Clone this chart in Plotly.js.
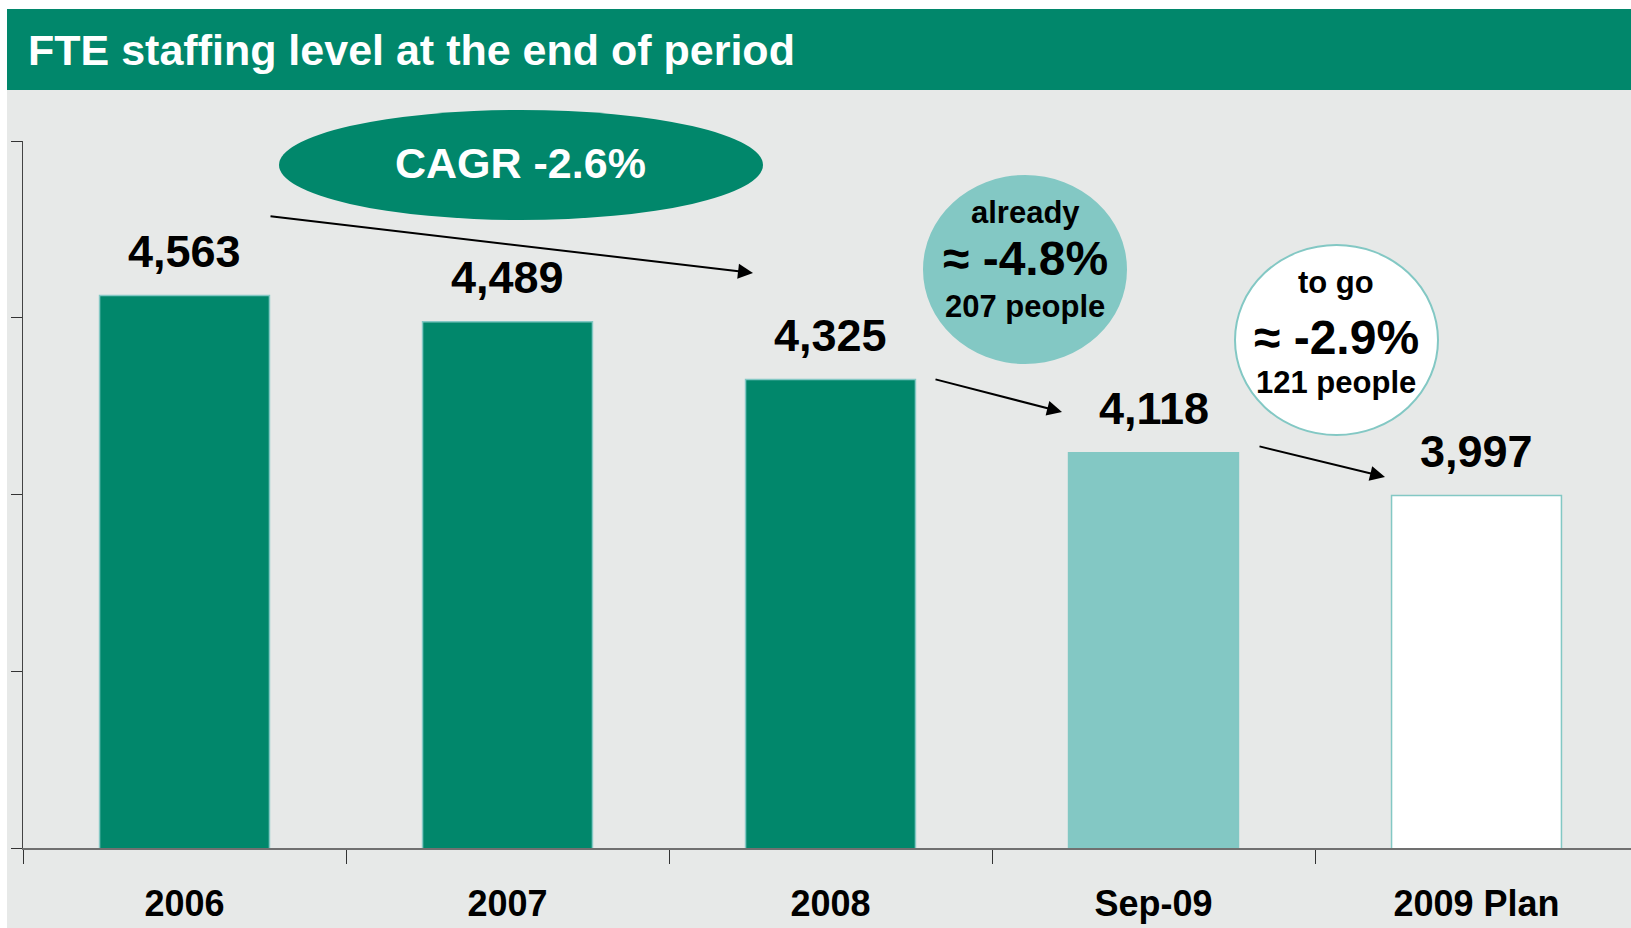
<!DOCTYPE html>
<html>
<head>
<meta charset="utf-8">
<script src="https://cdn.plot.ly/plotly-3.0.1.min.js"></script>
<style>
  html, body { margin: 0; padding: 0; background: #ffffff; }
  #chart { width: 1631px; height: 928px; }
</style>
</head>
<body>
<div id="chart"></div>
<script>
// ---- data ----
const categories = ['2006', '2007', '2008', 'Sep-09', '2009 Plan'];
const fte = [4563, 4489, 4325, 4118, 3997];
const valueLabels = ['4,563', '4,489', '4,325', '4,118', '3,997'];
const chartTitle = 'FTE staffing level at the end of period';
const cagrText = 'CAGR -2.6%';
const alreadyLines = ['already', '≈ -4.8%', '207 people'];
const toGoLines = ['to go', '≈ -2.9%', '121 people'];

// ---- styling ----
const W = 1631, H = 928;
const GREEN = '#01876b';
const TEAL = '#83c8c4';
const GREY = '#e7e9e8';
const barColors = [GREEN, GREEN, GREEN, TEAL, '#ffffff'];
const FONT = 'Liberation Sans, Arial, sans-serif';

const px = x => x / W;
const py = y => 1 - y / H;

const bars = {
  type: 'bar',
  x: categories,
  y: fte,
  width: 0.526,
  marker: { color: barColors, line: { color: TEAL, width: 1.5 } },
  hoverinfo: 'skip',
  showlegend: false
};

const shapes = [
  // grey panel
  { type: 'rect', xref: 'paper', yref: 'paper', x0: px(7), x1: 1, y0: 0, y1: py(9),
    fillcolor: GREY, line: { width: 0 }, layer: 'below' },
  // header band
  { type: 'rect', xref: 'paper', yref: 'paper', x0: px(7), x1: 1, y0: py(90), y1: py(9),
    fillcolor: GREEN, line: { width: 0 }, layer: 'below' },
  // CAGR ellipse
  { type: 'circle', xref: 'paper', yref: 'paper', x0: px(279), x1: px(763), y0: py(220), y1: py(110),
    fillcolor: GREEN, line: { width: 0 } },
  // already circle
  { type: 'circle', xref: 'paper', yref: 'paper', x0: px(923), x1: px(1127), y0: py(364), y1: py(175),
    fillcolor: TEAL, line: { width: 0 } },
  // to go circle
  { type: 'circle', xref: 'paper', yref: 'paper', x0: px(1235), x1: px(1438), y0: py(435), y1: py(245),
    fillcolor: '#ffffff', line: { color: TEAL, width: 2 } }
];

const annotations = [];
// title
annotations.push({ xref: 'paper', yref: 'paper', x: px(26), y: py(50), xanchor: 'left', yanchor: 'middle',
  text: '<b>' + chartTitle + '</b>', showarrow: false,
  font: { family: FONT, size: 43, color: '#ffffff' } });
// value labels (x given as category index so numeric-looking names stay categories)
categories.forEach((c, i) => {
  annotations.push({ xref: 'x', yref: 'y', x: i, y: fte[i], yanchor: 'middle', yshift: 44,
    text: '<b>' + valueLabels[i] + '</b>', showarrow: false,
    font: { family: FONT, size: 45, color: '#000000' } });
});
// CAGR text
annotations.push({ xref: 'paper', yref: 'paper', x: px(520), y: py(163), xanchor: 'center', yanchor: 'middle',
  text: '<b>' + cagrText + '</b>', showarrow: false, font: { family: FONT, size: 43, color: '#ffffff' } });
// circle texts
function circleText(lines, cx, ys) {
  const sizes = [31, 48, 31];
  lines.forEach((t, k) => {
    annotations.push({ xref: 'paper', yref: 'paper', x: px(cx), y: py(ys[k]), xanchor: 'center', yanchor: 'middle',
      text: '<b>' + t + '</b>', showarrow: false, font: { family: FONT, size: sizes[k], color: '#000000' } });
  });
}
circleText(alreadyLines, 1025, [212, 259, 307]);
circleText(toGoLines, 1336, [282, 337, 382]);
// arrows
function arrow(tx, ty, hx, hy) {
  annotations.push({ xref: 'paper', yref: 'paper', x: px(hx), y: py(hy), ax: tx - hx, ay: ty - hy,
    axref: 'pixel', ayref: 'pixel', text: '', showarrow: true,
    arrowhead: 2, arrowsize: 1.5, arrowwidth: 2, arrowcolor: '#000000', standoff: 0, startstandoff: 0 });
}
arrow(269, 216, 753, 273);
arrow(934, 379, 1062, 412);
arrow(1258, 446, 1385, 477);

const layout = {
  width: W, height: H,
  margin: { l: 0, r: 0, t: 0, b: 0, pad: 0 },
  paper_bgcolor: '#ffffff',
  plot_bgcolor: 'rgba(0,0,0,0)',
  showlegend: false,
  xaxis: {
    type: 'category',
    domain: [px(23), 1],
    range: [-0.5, -0.5 + (W - 23) / 323],
    showline: true, linecolor: '#707070', linewidth: 2,
    ticks: 'outside', tickson: 'boundaries', ticklen: 14, tickcolor: '#333333', tickwidth: 1,
    showgrid: false, zeroline: false,
    tickfont: { family: FONT, size: 36, color: '#000000', weight: 'bold' },
    ticklabelstandoff: 23,
    automargin: false, fixedrange: true
  },
  yaxis: {
    domain: [py(848), py(141)],
    range: [3000, 5000],
    dtick: 500, tick0: 3000,
    showline: true, linecolor: '#444444', linewidth: 1,
    ticks: 'outside', ticklen: 11, tickcolor: '#333333', tickwidth: 1,
    showticklabels: false, showgrid: false, zeroline: false,
    automargin: false, fixedrange: true
  },
  shapes: shapes,
  annotations: annotations,
  font: { family: FONT }
};

Plotly.newPlot('chart', [bars], layout, { displayModeBar: false, staticPlot: true });
</script>
</body>
</html>
